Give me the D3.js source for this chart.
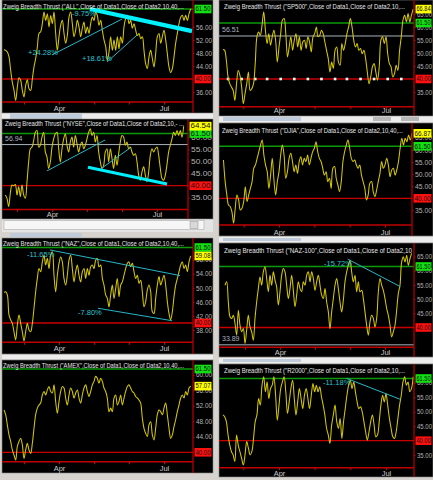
<!DOCTYPE html>
<html><head><meta charset="utf-8">
<script src="https://cdn.jsdelivr.net/npm/d3@7"></script>
<style>html,body{margin:0;padding:0;background:#d6d3ce;} svg{display:block}</style>
</head><body><svg id="c" width="433" height="480"></svg>
<script>
// ---------------- DATA ----------------
const monthTicks = [12, 33, 54, 75, 96];
const monthLabels = ["", "Apr", "", "", "Jul"];

const allValues = [49, 48.8, 48.3, 46.8, 42.7, 39, 36.5, 33.4, 37.5, 40.4, 39.6,
 36.5, 34.5, 38, 39.8, 37, 36.5, 40, 43.7, 46.3, 49.8,
 54, 54.5, 57, 60.6, 58, 60, 56, 59.5, 57, 60.6,
 54, 48.8, 53, 56.5, 58, 54, 51, 53.4, 59, 60.6,
 57, 53, 55, 58, 56, 53, 55.6, 57.5, 54, 56,
 54, 57, 59, 58, 60.6, 59.5, 56.5, 58, 55, 52,
 50, 45.7, 48.3, 53, 48.8, 52, 48.8, 53, 49.3, 53,
 51, 56, 58.6, 59.6, 57, 58, 55.6, 57, 55, 53.4,
 54, 52.4, 53, 48.8, 44.7, 43.2, 46.8, 48.8, 46.3, 43.7,
 47.8, 53, 54, 51, 53, 55, 52, 47.8, 43.7, 42,
 43.2, 46.8, 51, 54, 57, 59, 59.6, 58, 59.6, 58,
 60, 61.5];
const sp500Values = [51.3, 51, 47.2, 40.8, 38.2, 36.9, 35.6, 31.8, 38.2, 43.3,
 41.4, 36.9, 30.5, 34.4, 38.2, 42.7, 35.6, 36.3, 38.2, 45.9,
 56.2, 58, 56.8, 60.6, 65.8, 58.7, 53.6, 57.4, 53, 56.2,
 58.7, 54.9, 46.5, 52.3, 57.4, 62.6, 63.2, 57.4, 48.5, 52.3,
 56.2, 51, 54.9, 57.4, 52.3, 56.2, 51, 54.2, 54.9, 51.7,
 56.2, 54.2, 50.4, 56.2, 57.4, 60, 56.2, 56.8, 58.7, 57.4,
 54.2, 51, 47.8, 42.7, 46.5, 44, 51, 52.3, 46.5, 45.3,
 53.6, 51, 53.6, 57.4, 60, 63.2, 60, 54.9, 52.3, 53.6,
 51, 51.7, 49.7, 51, 47.8, 42.7, 38.2, 40.8, 44.6, 45.9,
 42.7, 39.5, 44.6, 54.9, 56.2, 53.6, 56.2, 49.7, 45.9, 44.6,
 40.8, 42, 45.3, 43.3, 51, 56.2, 62.6, 64.5, 61.9, 65.1,
 61.9, 64.5, 66.8];
const nyseStart = 5;
const nyseValues = [36.2, 34.8, 31.4, 36.9, 40.3, 40, 40.5, 36.2, 39.6, 35.5,
 40.3, 36.2, 34.8, 41.6, 49.8, 55.2, 55.9, 58.6, 62, 62.7,
 55.9, 56.7, 60, 62, 53.9, 51.8, 47.1, 49.8, 55.9, 59.3,
 61.4, 62, 55.2, 49.8, 55.2, 59.3, 61.4, 56.7, 53.9, 58,
 60, 55.9, 60.7, 57.3, 53.9, 56.7, 58, 55.2, 56.7, 59.3,
 62, 63.4, 60.7, 62, 58, 60.7, 53.9, 49.8, 47.1, 48.4,
 53.9, 55.2, 49.8, 55.2, 51.2, 47.1, 52.5, 48.4, 53.2, 58,
 60.7, 60, 56.7, 58, 55.2, 55.9, 53.9, 52.5, 53.2, 49.8,
 44.4, 42.3, 45.7, 47.8, 44.4, 41.6, 45.7, 52.5, 55.2, 53.9,
 55.2, 55.9, 52.5, 47.1, 43, 42.3, 44.4, 48.8, 53.9, 56.7,
 59.3, 62, 60.7, 62.7, 60.7, 62.7, 60, 64.5];
const djiaValues = [55.8, 46.9, 41.4, 37.2, 36.6, 34.5, 29.7, 35.9, 41.4, 39.3,
 35.2, 35.9, 38.6, 44.8, 38.6, 41.4, 44.1, 46.9, 52.4, 53.8,
 56.5, 59.3, 62, 64.1, 57.9, 53.8, 51, 44.1, 49.6, 56.5,
 47.6, 41.4, 46.9, 51, 57.9, 62, 57.9, 48.3, 51, 56.5,
 58.6, 55.2, 51, 53.8, 50.3, 55.2, 57.2, 53.8, 56.5, 55.2,
 57.9, 53.8, 56.5, 59.3, 60.7, 63.4, 59.3, 56.5, 55.2, 52.4,
 49.6, 51, 46.9, 48.3, 44.1, 52.4, 53.1, 48.3, 45.5, 42.8,
 46.9, 55.2, 59.3, 62, 64.1, 60.7, 56.5, 55.2, 55.8, 53.8,
 52.4, 53.8, 49.6, 46.9, 44.1, 39.3, 41.4, 46.2, 46.9, 42.8,
 40.7, 43.4, 46.9, 50.3, 55.2, 52.4, 53.8, 56.5, 53.8, 48.9,
 51.7, 52.4, 49.6, 51.7, 55.2, 60.7, 64.8, 62, 64.8, 63.4,
 66.2, 64.1, 66.9];
const nazValues = [48.7, 48.9, 48, 42.3, 40.9, 39.9, 37.5, 35.2, 39.4, 42.3,
 39.9, 37.5, 34.9, 37.5, 39.9, 38, 37.5, 39.9, 44.2, 48.9,
 52.7, 55.5, 54.6, 57.4, 59.3, 56.5, 58.4, 55.5, 59.3, 60.3,
 53.6, 48.9, 53.6, 57, 58.8, 57.4, 52.7, 50.8, 53.6, 57.9,
 59.3, 55.5, 51.7, 54.6, 56.5, 53.6, 51.7, 54.6, 55.5, 52.7,
 55.5, 53.6, 56, 56.5, 55.5, 57.9, 58.4, 56, 56.5, 52.7,
 50.8, 48, 47, 44.6, 48, 50.8, 47, 49.8, 52.7, 47.5,
 50.8, 51.7, 53.6, 55.5, 57, 57.4, 56, 57, 54.6, 52.7,
 53.6, 51.3, 52.2, 48.9, 44.6, 46.1, 49.4, 50.8, 48.9, 43.2,
 42.7, 47, 50.8, 53.2, 50.8, 52.2, 53.6, 50.8, 46.1, 42.7,
 40.9, 43.2, 47.5, 50.8, 52.7, 54.6, 56.5, 57.4, 55.5, 56.5,
 54.6, 57.4, 59.1];
const naz100Values = [54.9, 56.1, 49, 43.8, 43.2, 44.3, 41.4, 37.3, 46.1, 40.8,
 38.5, 39.6, 34.4, 39.1, 44.3, 40.2, 38.5, 35.5, 43.2, 49,
 53.7, 57.8, 54.9, 59.6, 61.4, 57.3, 52.6, 58.4, 54.9, 59.6,
 56.7, 54.3, 47.9, 52.6, 58.4, 60.8, 59.6, 54.9, 50.2, 53.7,
 58.4, 53.1, 47.3, 51.4, 56.1, 53.7, 52.6, 56.1, 54.9, 58.4,
 59.6, 56.1, 59.6, 57.3, 53.1, 56.1, 58.4, 54.9, 51.4, 50.2,
 53.7, 49, 45.5, 39.6, 45.5, 50.2, 54.9, 57.3, 53.7, 49,
 45.5, 49.6, 56.1, 59.6, 61.9, 63.7, 59.6, 56.1, 58.4, 52.6,
 56.1, 52.6, 53.1, 50.2, 45.5, 40.8, 37.3, 42, 44.3, 43.2,
 40.2, 43.2, 52.6, 57.3, 54.9, 53.1, 50.2, 46.7, 44.3, 40.8,
 36.7, 38.5, 40.8, 46.1, 52, 54.9, 63.1, 64.9, 63.1, 65.5,
 61.9, 64.3, 66.1];
const amexValues = [50.9, 49.7, 47.1, 44.5, 42.8, 40.6, 39.3, 38, 41.5, 42.8,
 43.6, 41.9, 38.4, 40.6, 42.3, 40.6, 39.7, 42.3, 46.2, 49.7,
 51.4, 52.2, 52.7, 54.8, 55.7, 54.8, 56.1, 57, 55.7, 55.3,
 57.4, 53.1, 50.1, 53.1, 55.7, 57, 56.6, 54, 52.2, 54.8,
 56.6, 55.7, 54, 55.3, 56.1, 54, 52.7, 54.8, 56.6, 57.4,
 55.7, 54.4, 55.7, 57.4, 58.3, 59.6, 59.1, 57.8, 59.1, 58.3,
 56.6, 55.7, 54, 50.5, 51.4, 50.5, 54, 54.8, 52.2, 53.1,
 54.8, 52.2, 54, 55.7, 57, 57.4, 56.6, 55.7, 55.3, 54.4,
 54, 53.5, 52.7, 48.8, 46.2, 44.9, 44.1, 47.1, 47.9, 44.5,
 43.2, 46.2, 49.7, 50.9, 50.5, 49.7, 51.4, 52.7, 49.7, 46.2,
 43.6, 44.5, 46.6, 48.4, 50.5, 52.2, 54, 54.8, 54, 55.7,
 54.8, 56.6, 57.1];
const r2000Values = [48.9, 48.3, 46.6, 42, 38.5, 36.2, 35.1, 32.8, 42, 38.5,
 36.2, 33.9, 31.6, 35.1, 39.7, 37.4, 35.1, 36.2, 40.8, 46.6,
 48.9, 54.6, 52.3, 59.2, 62.1, 56.9, 60.3, 54.6, 58, 59.2,
 62.1, 55.7, 47.1, 52.3, 58, 60.3, 62.1, 56.9, 49.4, 53.4,
 58, 60.9, 54.6, 48.9, 53.4, 58, 54.6, 51.1, 55.7, 58,
 54.6, 51.1, 55.7, 59.8, 56.9, 59.2, 56.9, 58.6, 55.2, 52.3,
 48.9, 44.3, 42, 39.1, 45.4, 48.9, 52.3, 46.6, 44.3, 47.7,
 40.8, 46.6, 51.1, 55.7, 59.2, 60.9, 58, 60.3, 56.9, 53.4,
 51.1, 51.7, 50, 46.6, 43.1, 40.2, 43.1, 46.6, 48.9, 45.4,
 41.4, 42, 46.6, 52.3, 55.7, 53.4, 56.3, 52.3, 47.7, 44.3,
 41.4, 40.8, 43.1, 47.7, 52.3, 55.7, 60.3, 62.1, 59.2, 60.3,
 56.9, 58, 62.1];

const thrustLevel = 61.5;
const lowLevel = 40;

// trendlines: [dayIndex, value] pairs
const allTrendThick = [[51.6, 61.5], [112.8, 54.7]];
const allTrend1 = [[28.8, 47.4], [70.8, 58.4]];
const allTrend2 = [[61.8, 45.2], [79.8, 53.5]];
const nyseTrend1 = [[30, 46.1], [64.8, 58.8]];
const nyseTrend2 = [[63, 47.3], [79.8, 55.5]];
const nyseTrendThick = [[54.6, 47.6], [102, 40.7]];
const nazTrendUpper = [[27.6, 60.8], [105.6, 53.5]];
const nazTrendLower = [[56.4, 44.2], [100.8, 40.65]];
const naz100Trend = [[73.6, 64.1], [105.2, 54.4]];
const r2000Trend = [[72.5, 61.6], [104.4, 54.3]];

const allNotes = [{i: 40.8, v: 60.3, t: "-9.75%"}, {i: 14.4, v: 48.3, t: "+24.28%"}, {i: 46.8, v: 46.4, t: "+18.61%"}];
const nazNotes = [{i: 13.8, v: 59.6, t: "-11.65%"}, {i: 44.4, v: 43.1, t: "-7.80%"}];
const naz100Notes = [{i: 59.4, v: 62.7, t: "-15.72%"}];
const r2000Notes = [{i: 58.9, v: 60.0, t: "-11.18%"}];

const sp500DotDays = [3, 11, 19, 26, 34, 42, 50, 58, 66, 73, 81, 89, 97, 105];

const titles = {
  ALL: 'Zweig Breadth Thrust ("ALL",Close of Data1,Close of Data2,10,40,...',
  SP500: 'Zweig Breadth Thrust ("SP500",Close of Data1,Close of Data2,10,...',
  NYSE: 'Zweig Breadth Thrust ("NYSE",Close of Data1,Close of Data2,10,-  ...',
  DJIA: 'Zweig Breadth Thrust ("DJIA",Close of Data1,Close of Data2,10,40,...',
  NAZ: 'Zweig Breadth Thrust ("NAZ",Close of Data1,Close of Data2,10,40,...',
  NAZ100: 'Zweig Breadth Thrust ("NAZ-100",Close of Data1,Close of Data2,10',
  AMEX: 'Zweig Breadth Thrust ("AMEX",Close of Data1,Close of Data2,10,40,...',
  R2000: 'Zweig Breadth Thrust ("R2000",Close of Data1,Close of Data2,10,...'
};

const allTicks = [36, 44, 48, 52, 56];
const sp500Ticks = [35, 45, 50, 55, 60, 65];
const nyseTicks = [35, 45, 50, 55, 60];
const djiaTicks = [35, 45, 50, 55, 60, 65];
const nazTicks = [38, 42, 46, 50, 54, 58];
const naz100Ticks = [45, 50, 55, 60, 65];
const amexTicks = [44, 48, 52, 56, 60];
const r2000Ticks = [35, 45, 50, 55, 60];

const lastSP500 = 66.84, lastNYSE = 64.54, lastDJIA = 66.87, lastNAZ = 59.08, lastAMEX = 57.07;
const refSP500 = 56.51, refNYSE = 56.94, refNAZ100 = 33.89;

// ---------------- LAYOUT ----------------
const layout = {
  ALL:    {rect: [2, 0, 211, 113],   axisX: 193, y40: 79,    y61: 9,     bottomY: 102,   aprX: 59,  julX: 164, titleX: 3,   titleW: 181, titleY: 6,   dateY: 108},
  SP500:  {rect: [219, 0, 214, 116], axisX: 414, y40: 79,    y61: 23,    bottomY: 106.7, aprX: 279, julX: 386, titleX: 224, titleW: 181, titleY: 6,   dateY: 110},
  NYSE:   {rect: [2, 119, 211, 100], axisX: 188, y40: 185.7, y61: 133.5, bottomY: 209.5, aprX: 52,  julX: 157, titleX: 5,   titleW: 179, titleY: 123.5, dateY: 214.5},
  DJIA:   {rect: [219, 123, 214, 113], axisX: 412, y40: 198.3, y61: 146.3, bottomY: 225, aprX: 279, julX: 385, titleX: 222, titleW: 181, titleY: 130, dateY: 232},
  NAZ:    {rect: [2, 238, 211, 116], axisX: 193, y40: 323,   y61: 247.5, bottomY: 342.3, aprX: 59,  julX: 164, titleX: 3,   titleW: 181, titleY: 243.5, dateY: 348},
  NAZ100: {rect: [219, 243, 214, 114], axisX: 414, y40: 327.5, y61: 266.5, bottomY: 347.3, aprX: 280, julX: 385, titleX: 224, titleW: 188, titleY: 250, dateY: 352},
  AMEX:   {rect: [2, 360, 211, 113], axisX: 193, y40: 452.3, y61: 369,   bottomY: 461.7, aprX: 59,  julX: 164, titleX: 3,   titleW: 181, titleY: 365.5, dateY: 468},
  R2000:  {rect: [219, 364, 214, 113], axisX: 414, y40: 440.7, y61: 378.5, bottomY: 467.7, aprX: 279, julX: 386, titleX: 224, titleW: 181, titleY: 370, dateY: 473}
};

const panels = [
  {id: "ALL", values: allValues, start: 0, ticks: allTicks, badges: [],
   thin: [allTrend1, allTrend2], thick: [allTrendThick], notes: allNotes},
  {id: "SP500", values: sp500Values, start: 0, ticks: sp500Ticks, badges: [{v: lastSP500, c: "#ffff00"}],
   ref: refSP500, dots: sp500DotDays, thin: [], thick: [], notes: []},
  {id: "NYSE", values: nyseValues, start: nyseStart, ticks: nyseTicks, badges: [{v: lastNYSE, c: "#ffff00"}],
   ref: refNYSE, thin: [nyseTrend1, nyseTrend2], thick: [nyseTrendThick], thickW: 3, notes: []},
  {id: "DJIA", values: djiaValues, start: 0, ticks: djiaTicks, badges: [{v: lastDJIA, c: "#ffff00"}],
   thin: [], thick: [], notes: []},
  {id: "NAZ", values: nazValues, start: 0, ticks: nazTicks, badges: [{v: lastNAZ, c: "#ffff00"}],
   thin: [nazTrendUpper, nazTrendLower], thick: [], notes: nazNotes},
  {id: "NAZ100", values: naz100Values, start: 0, ticks: naz100Ticks, badges: [],
   ref: refNAZ100, thin: [naz100Trend], thick: [], notes: naz100Notes},
  {id: "AMEX", values: amexValues, start: 0, ticks: amexTicks, badges: [{v: lastAMEX, c: "#ffff00"}],
   thin: [], thick: [], notes: []},
  {id: "R2000", values: r2000Values, start: 0, ticks: r2000Ticks, badges: [],
   thin: [r2000Trend], thick: [], notes: r2000Notes}
];

// ---------------- DRAW ----------------
const svg = d3.select("#c");
const defs = svg.append("defs");
const FONT = "Arial, 'Liberation Sans', sans-serif";

// window chrome strips (scrollbars)
const chrome = svg.append("g");
chrome.append("rect").attr("x", 2).attr("y", 113).attr("width", 211).attr("height", 6).attr("fill", "#ececec");
chrome.append("rect").attr("x", 10).attr("y", 114).attr("width", 72).attr("height", 5).attr("fill", "#bfcadb");
chrome.append("rect").attr("x", 219).attr("y", 116).attr("width", 214).attr("height", 6).attr("fill", "#ececec");
chrome.append("rect").attr("x", 223).attr("y", 117).attr("width", 78).attr("height", 4).attr("fill", "#bfcadb");
chrome.append("rect").attr("x", 373).attr("y", 117).attr("width", 18).attr("height", 4).attr("fill", "#b8b8b8");
chrome.append("rect").attr("x", 401).attr("y", 117).attr("width", 18).attr("height", 4).attr("fill", "#b8b8b8");
// NYSE scrollbar
chrome.append("rect").attr("x", 2).attr("y", 219).attr("width", 211).attr("height", 13).attr("fill", "#e4e4e4");
chrome.append("rect").attr("x", 4).attr("y", 220.5).attr("width", 200).attr("height", 9).attr("fill", "#f6f6f6").attr("stroke", "#a0a0a0").attr("stroke-width", 0.5);
chrome.append("rect").attr("x", 190).attr("y", 221.5).attr("width", 8).attr("height", 7).attr("fill", "#d8d8d8").attr("stroke", "#909090").attr("stroke-width", 0.5);
chrome.append("rect").attr("x", 10).attr("y", 233).attr("width", 72).attr("height", 4).attr("fill", "#bfcadb");
chrome.append("rect").attr("x", 219).attr("y", 237).attr("width", 214).attr("height", 5).attr("fill", "#ececec");
chrome.append("rect").attr("x", 223).attr("y", 238).attr("width", 78).attr("height", 3).attr("fill", "#bfcadb");
chrome.append("rect").attr("x", 2).attr("y", 355).attr("width", 211).attr("height", 4).attr("fill", "#ececec");
chrome.append("rect").attr("x", 219).attr("y", 358).attr("width", 214).attr("height", 5).attr("fill", "#ececec");
chrome.append("rect").attr("x", 223).attr("y", 359).attr("width", 78).attr("height", 3).attr("fill", "#bfcadb");

panels.forEach(p => {
  const L = layout[p.id];
  const [rx, ry, rw, rh] = L.rect;
  const g = svg.append("g");
  g.append("rect").attr("x", rx).attr("y", ry).attr("width", rw).attr("height", rh)
    .attr("fill", "#000").attr("stroke", "#8a8a8a").attr("stroke-width", 0.6);

  const x = d3.scaleLinear().domain([33, 96]).range([L.aprX, L.julX]);
  const y = d3.scaleLinear().domain([lowLevel, thrustLevel]).range([L.y40, L.y61]);

  const clipId = "clip" + p.id;
  defs.append("clipPath").attr("id", clipId).append("rect")
    .attr("x", rx).attr("y", ry).attr("width", L.axisX - rx).attr("height", L.bottomY - ry);

  const plot = g.append("g").attr("clip-path", `url(#${clipId})`);

  // reference lines
  if (p.ref !== undefined) {
    plot.append("line").attr("x1", rx).attr("x2", L.axisX).attr("y1", y(p.ref)).attr("y2", y(p.ref))
      .attr("stroke", "#a9b3bd").attr("stroke-width", 1);
    plot.append("text").attr("x", rx + 3).attr("y", y(p.ref) - 4)
      .attr("fill", "#aab4c0").attr("font-size", 7).attr("font-family", FONT).text(p.ref.toFixed(2));
  }
  plot.append("line").attr("x1", rx).attr("x2", L.axisX).attr("y1", y(thrustLevel)).attr("y2", y(thrustLevel))
    .attr("stroke", "#0a9a0a").attr("stroke-width", 1.6);
  plot.append("line").attr("x1", rx).attr("x2", L.axisX).attr("y1", y(lowLevel)).attr("y2", y(lowLevel))
    .attr("stroke", "#c80000").attr("stroke-width", 1.3);

  if (p.dots) {
    plot.selectAll("rect.dot").data(p.dots).enter().append("rect")
      .attr("x", d => x(d) - 1.3).attr("y", y(lowLevel) - 1.3).attr("width", 2.6).attr("height", 2.6)
      .attr("fill", "#ffffff");
  }

  const line = d3.line().x((d, i) => x(p.start + i)).y(d => y(d)).curve(d3.curveCatmullRom.alpha(0.5));
  plot.append("path").datum(p.values).attr("d", line)
    .attr("fill", "none").attr("stroke", "#d6c800").attr("stroke-width", 1.05);

  const tl = d3.line().x(d => x(d[0])).y(d => y(d[1]));
  p.thin.forEach(t => plot.append("path").datum(t).attr("d", tl)
    .attr("stroke", "#25b7c8").attr("stroke-width", 1).attr("fill", "none"));
  p.thick.forEach(t => plot.append("path").datum(t).attr("d", tl)
    .attr("stroke", "#00f0ff").attr("stroke-width", p.thickW || 4.2).attr("fill", "none"));
  p.notes.forEach(n => plot.append("text").attr("x", x(n.i)).attr("y", y(n.v))
    .attr("dy", "0.35em").attr("fill", "#2cc3d3").attr("font-size", 7.5).attr("font-family", FONT).text(n.t));

  // bottom line + axis line
  g.append("line").attr("x1", rx).attr("x2", L.axisX).attr("y1", L.bottomY).attr("y2", L.bottomY)
    .attr("stroke", "#c00000").attr("stroke-width", 1.5);
  g.append("line").attr("x1", L.axisX).attr("x2", L.axisX).attr("y1", ry).attr("y2", ry + rh)
    .attr("stroke", "#c00000").attr("stroke-width", 1.2);

  // x axis
  const xa = g.append("g").attr("transform", `translate(0,${L.bottomY})`)
    .call(d3.axisBottom(x).tickValues(monthTicks).tickFormat((d, i) => monthLabels[i]).tickSize(2.5));
  xa.select(".domain").remove();
  xa.selectAll(".tick line").attr("stroke", "#d00000");
  xa.selectAll(".tick text").attr("y", L.dateY - L.bottomY).attr("dy", "0.35em")
    .attr("fill", "#c8c8c8").attr("font-size", 7.5).attr("font-family", FONT);

  // y axis
  const ya = g.append("g").attr("transform", `translate(${L.axisX},0)`)
    .call(d3.axisRight(y).tickValues(p.ticks).tickFormat(d3.format(".2f")).tickSize(1.5).tickPadding(1.5));
  ya.select(".domain").remove();
  ya.selectAll(".tick line").attr("stroke", "#d00000");
  const labelW = rx + rw - L.axisX - 4;
  ya.selectAll(".tick text").attr("fill", "#b4b4b4").attr("font-size", 6.6).attr("font-family", FONT)
    .attr("textLength", labelW).attr("lengthAdjust", "spacingAndGlyphs");

  // badges
  const badges = [{v: thrustLevel, c: "#11e011"}, {v: lowLevel, c: "#ff1010"}].concat(p.badges);
  const bx = L.axisX + 1.5, bw = rx + rw - bx - 1.5;
  badges.forEach(b => {
    g.append("rect").attr("x", bx).attr("y", y(b.v) - 4.3).attr("width", bw).attr("height", 8.6).attr("fill", b.c);
    g.append("text").attr("x", bx + 1).attr("y", y(b.v)).attr("dy", "0.35em")
      .attr("fill", "#101010").attr("font-size", 6.6).attr("font-family", FONT)
      .attr("textLength", bw - 2).attr("lengthAdjust", "spacingAndGlyphs").text(b.v.toFixed(2));
  });

  // title
  g.append("text").attr("x", L.titleX).attr("y", L.titleY).attr("dy", "0.35em")
    .attr("fill", "#e6e6e6").attr("font-size", 7.2).attr("font-family", FONT)
    .attr("textLength", L.titleW).attr("lengthAdjust", "spacingAndGlyphs").text(titles[p.id]);
});
</script></body></html>
